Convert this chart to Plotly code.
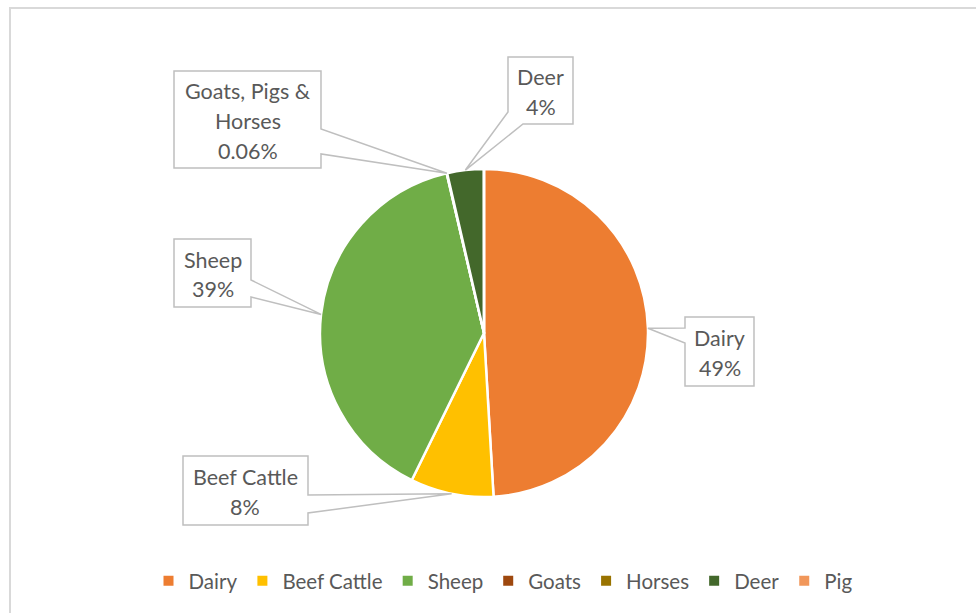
import math
import plotly.graph_objects as go

# Livestock share of the farm area
categories = ["Dairy", "Beef Cattle", "Sheep", "Goats", "Horses", "Deer", "Pig"]
shares = [49.1, 8.2, 39.1, 0.03, 0.02, 3.6, 0.01]
colors = ["#ED7D31", "#FFC000", "#70AD47", "#9E480E", "#997300", "#43682B", "#F1975A"]

W, H = 976, 613
CX, CY, R = 484, 333, 164          # pie centre and radius in pixels
TEXT = "#595959"
EDGE = "#BFBFBF"
FONT = "Lato"
FONT_SIZE = 21.5
LEGEND_SIZE = 20.5


def px(x):
    return x / W


def py(y):
    return 1 - y / H


total = sum(shares)


def edge_point(names):
    """Pixel point on the rim at the middle angle of the given slices."""
    start = 0.0
    span_start = span_end = None
    for name, v in zip(categories, shares):
        if name in names:
            if span_start is None:
                span_start = start
            span_end = start + v
        start += v
    theta = 2 * math.pi * (span_start + span_end) / 2 / total
    return CX + R * math.sin(theta), CY - R * math.cos(theta)


def pct(names, digits=0):
    v = sum(s for n, s in zip(categories, shares) if n in names) / total * 100
    return f"{v:.{digits}f}%"


fig = go.Figure(
    go.Pie(
        labels=categories,
        values=shares,
        sort=False,
        direction="clockwise",
        rotation=0,
        marker=dict(colors=colors, line=dict(color="white", width=2.5)),
        textinfo="none",
        hoverinfo="label+percent",
        domain=dict(x=[px(CX - R), px(CX + R)], y=[py(CY + R), py(CY - R)]),
    )
)

# Callout boxes: box rectangle, the two points where the pointer leaves the box,
# and the lines of text.
callouts = [
    dict(tipnames=["Goats", "Horses"],
         box=(174, 71, 321, 168), side="right", base=(129, 154),
         lines=["Goats, Pigs &", "Horses", pct(["Goats", "Horses", "Pig"], 2)]),
    dict(tipnames=["Deer"],
         box=(508, 57, 573, 124), side="leftbottom", base=(112, 523),
         lines=["Deer", pct(["Deer"])]),
    dict(tipnames=["Sheep"],
         box=(174, 239, 251, 307), side="right", base=(280, 297),
         lines=["Sheep", pct(["Sheep"])]),
    dict(tipnames=["Dairy"],
         box=(685, 317, 754, 386), side="left", base=(328, 343),
         lines=["Dairy", pct(["Dairy"])]),
    dict(tipnames=["Beef Cattle"],
         box=(183, 456, 308, 525), side="right", base=(495, 513),
         lines=["Beef Cattle", pct(["Beef Cattle"])]),
]

shapes = []
annotations = []
for c in callouts:
    x0, y0, x1, y1 = c["box"]
    tx, ty = edge_point(c["tipnames"])
    b1, b2 = c["base"]
    if c["side"] == "right":
        pts = [(x0, y0), (x1, y0), (x1, b1), (tx, ty), (x1, b2), (x1, y1), (x0, y1)]
    elif c["side"] == "left":
        pts = [(x0, y0), (x1, y0), (x1, y1), (x0, y1), (x0, b2), (tx, ty), (x0, b1)]
    else:  # pointer from left edge to bottom edge
        pts = [(x0, y0), (x1, y0), (x1, y1), (b2, y1), (tx, ty), (x0, b1)]
    path = "M " + " L ".join(f"{px(x):.5f},{py(y):.5f}" for x, y in pts) + " Z"
    shapes.append(dict(type="path", xref="paper", yref="paper", path=path,
                       fillcolor="white", line=dict(color=EDGE, width=1.5), layer="above"))
    n = len(c["lines"])
    cy = (y0 + y1) / 2 + 1.5
    step = 29.5
    for i, t in enumerate(c["lines"]):
        ly = cy + (i - (n - 1) / 2) * step
        annotations.append(dict(text=t, x=px((x0 + x1) / 2), y=py(ly), xref="paper", yref="paper",
                                xanchor="center", yanchor="middle", showarrow=False,
                                font=dict(family=FONT, size=FONT_SIZE, color=TEXT)))

# chart-area frame
shapes.append(dict(type="rect", xref="paper", yref="paper", x0=px(10), y0=py(H + 20),
                   x1=px(W + 20), y1=py(8), line=dict(color="#D9D9D9", width=2),
                   fillcolor="rgba(0,0,0,0)", layer="below"))

fig.update_layout(
    width=W, height=H,
    margin=dict(l=0, r=0, t=0, b=0),
    paper_bgcolor="white",
    plot_bgcolor="white",
    shapes=shapes,
    annotations=annotations,
    showlegend=True,
    legend=dict(orientation="h", x=px(503), xanchor="center", y=py(581), yanchor="middle",
                font=dict(family=FONT, size=LEGEND_SIZE, color=TEXT), itemsizing="constant",
                traceorder="normal"),
)

fig.write_html("out.html")
